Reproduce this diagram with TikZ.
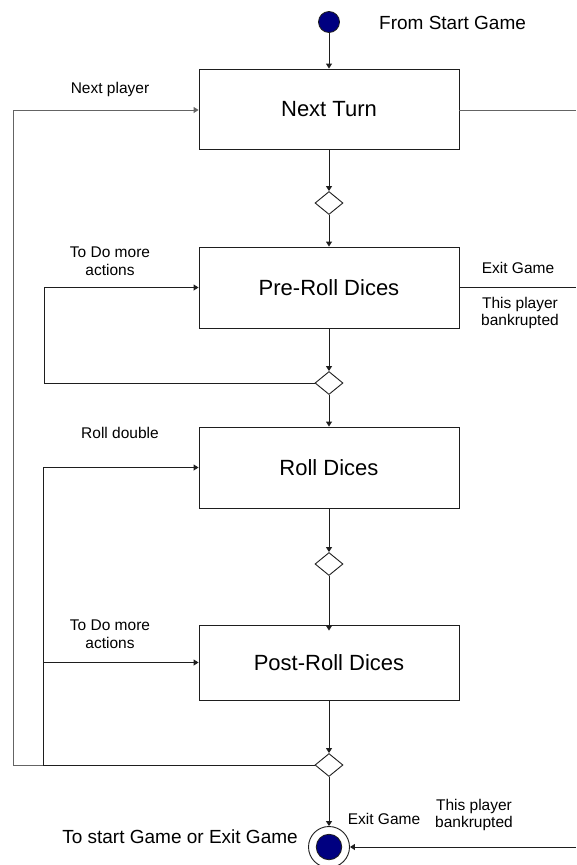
\documentclass[tikz,border=0pt]{standalone}
\usepackage{fontspec}
\setmainfont{Liberation Sans}
\usetikzlibrary{shapes.geometric,arrows.meta}
\definecolor{navy}{RGB}{0,0,128}
\definecolor{linec}{RGB}{30,30,30}
\definecolor{linegray}{RGB}{100,100,100}
\begin{document}
\begin{tikzpicture}[x=1pt,y=-1pt,
  box/.style={draw=linec, line width=0.9pt, minimum width=260pt, minimum height=80pt, font=\fontsize{22}{26}\selectfont, inner sep=0pt},
  dec/.style={draw=linec, line width=0.9pt, diamond, minimum width=28pt, minimum height=23pt, inner sep=0pt},
  conn/.style={line width=0.9pt, draw=linec},
  arr/.style={conn, -{Triangle[length=5pt,width=6pt]}},
  lbl/.style={font=\fontsize{15.5}{17.5}\selectfont, align=center, inner sep=0pt},
  big/.style={font=\fontsize{19}{22}\selectfont, inner sep=0pt},
]
\useasboundingbox (0,0) rectangle (576,865);
\fill[white] (0,0) rectangle (576,865);

% nodes
\node[circle, fill=navy, draw=linec, line width=0.8pt, minimum size=21pt, inner sep=0pt] (start) at (329,22) {};
\node[box, minimum height=80pt] (nt) at (329,109) {Next Turn};
\node[dec] (d1) at (329,203) {};
\node[box, minimum height=81pt] (pr) at (329,287.5) {Pre-Roll Dices};
\node[dec] (d2) at (329,383) {};
\node[box, minimum height=81pt] (rd) at (329,467.5) {Roll Dices};
\node[dec] (d3) at (329,564) {};
\node[box, minimum height=75pt] (po) at (329,662.5) {Post-Roll Dices};
\node[dec] (d4) at (329,765) {};
\node[circle, draw=linec, line width=0.9pt, minimum size=41pt, inner sep=0pt] (endo) at (329,847) {};
\node[circle, fill=navy, draw=linec, line width=0.8pt, minimum size=25.5pt, inner sep=0pt] (endi) at (329,847) {};

% helper coordinates
\coordinate (Redge) at (576,0);
\coordinate (L1) at (13,765);
\coordinate (B2) at (43,765);
\coordinate (B1) at (44,383);

% main flow
\draw[arr] (start.south) -- (nt.north);
\draw[arr] (nt.south) -- (d1.north);
\draw[arr] (d1.south) -- (pr.north);
\draw[arr] (pr.south) -- (d2.north);
\draw[arr] (d2.south) -- (rd.north);
\draw[arr] (rd.south) -- (d3.north);
\draw[arr] (d3.south) -- ([yshift=-6pt]po.north);
\draw[arr] (po.south) -- (d4.north);
\draw[arr] (d4.south) -- (endo.north);

% loops on the left
\draw[arr] (d2.west) -- (B1) |- (pr.west);
\draw[conn] (d4.west) -- (B2);
\draw[arr, draw=linegray] (B2) -- (L1) |- ([yshift=-1pt]nt.west);
\draw[arr] (B2) |- (rd.west);
\draw[arr] (B2 |- po.west) -- (po.west);

% exits on the right
\draw[conn, draw=linegray] ([yshift=-1pt]nt.east) -- ([yshift=-1pt]nt.east -| Redge);
\draw[conn] (pr.east) -- (pr.east -| Redge);
\draw[arr] (endo.east -| Redge) -- (endo.east);

% labels
\node[big, anchor=west] (lfs) at (379,23) {From Start Game};
\node[lbl] (lnp) at (110,89) {Next player};
\node[lbl] (ltd1) at (110,261) {To Do more\\actions};
\node[lbl] (lex1) at (518,268) {Exit Game};
\node[lbl] (lbk1) at (520,313) {This player\\bankrupted};
\node[lbl] (lrd) at (120,433) {Roll double};
\node[lbl] (ltd2) at (110,634) {To Do more\\actions};
\node[lbl] (lex2) at (384,819) {Exit Game};
\node[lbl] (lbk2) at (474,815) {This player\\bankrupted};
\node[big] (lte) at (180,837) {To start Game or Exit Game};
\end{tikzpicture}
\end{document}
